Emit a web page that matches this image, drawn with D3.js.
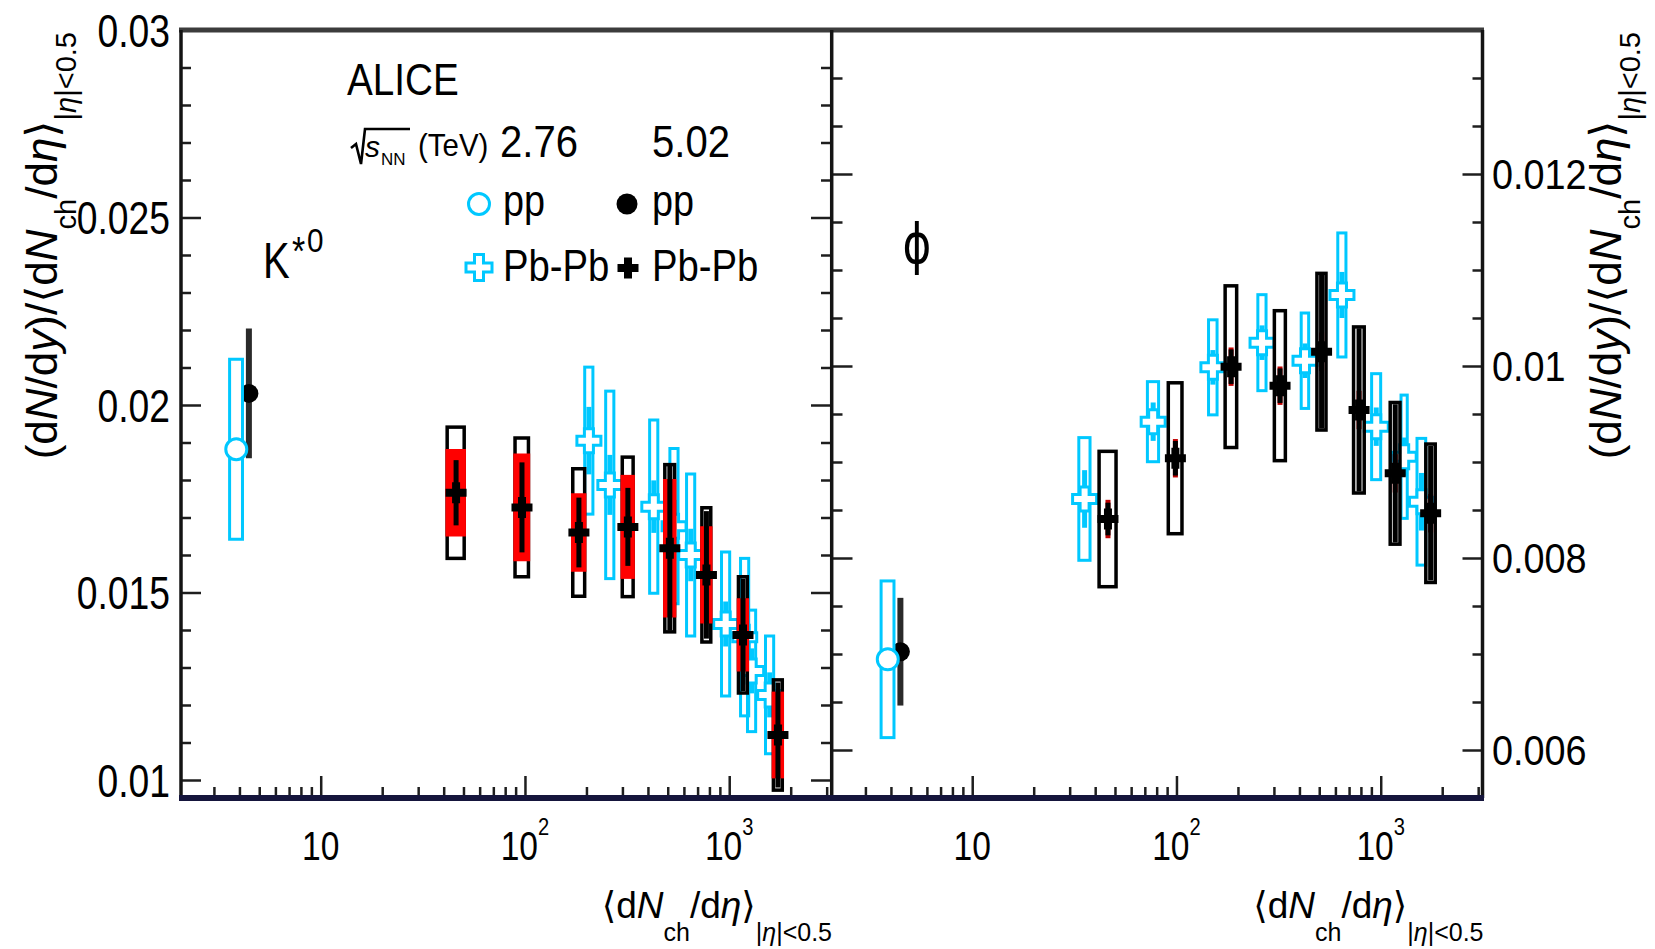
<!DOCTYPE html>
<html>
<head>
<meta charset="utf-8">
<script src="https://cdn.jsdelivr.net/npm/d3@7"></script>
<style>
  html, body { margin: 0; padding: 0; background: #fff; }
  svg { display: block; font-family: "Liberation Sans", Arial, Helvetica, sans-serif; }
</style>
</head>
<body>
<svg id="chart" width="1655" height="949"></svg>
<script>
// ---------------- data ----------------
// <dN_ch/deta>_{|eta|<0.5} of the pp reference points
const ppDNch276 = [3.86];
const ppDNch502 = [4.45];
const ppXErr = [0.28];

// K*0 : (dN/dy)/<dN_ch/deta>
const kstarPP276 = [0.01882];
const kstarPP276Stat = [0.0003];
const kstarPP276Sys = [0.0024];
const kstarPP502 = [0.02031];
const kstarPP502Err = [0.00173];

const kstarPbPb276DNch = [205.6, 260.4, 427.4, 537, 648, 961, 1191, 1288, 1578];
const kstarPbPb276XErr = [9.5, 12.0, 19.7, 24.7, 29.8, 44.2, 54.8, 59.2, 72.6];
const kstarPbPb276 = [0.01905, 0.01787, 0.01729, 0.01677, 0.0160, 0.01416, 0.01381, 0.01291, 0.01227];
const kstarPbPb276Stat = [0.0009, 0.0008, 0.0007, 0.0007, 0.0007, 0.0006, 0.0006, 0.0006, 0.0006];
const kstarPbPb276Sys = [0.00196, 0.0025, 0.00231, 0.00207, 0.00216, 0.00192, 0.0021, 0.00162, 0.00157];

const kstarPbPb502DNch = [46.0, 96.7, 183.7, 319, 512, 773.5, 1168, 1732];
const kstarPbPb502XErr = [4.4, 7.3, 12.3, 19.5, 28.2, 38.7, 58.4, 86.6];
const kstarPbPb502 = [0.01766, 0.01727, 0.01660, 0.01675, 0.01618, 0.01547, 0.01387, 0.01120];
const kstarPbPb502Stat = [0.00087, 0.0012, 0.00093, 0.00104, 0.0022, 0.0017, 0.0015, 0.0014];
const kstarPbPb502Sys = [0.00175, 0.00185, 0.0017, 0.00186, 0.00223, 0.00179, 0.00155, 0.00147];
const kstarPbPb502SysUnc = [0.00112, 0.00139, 0.0010, 0.00134, 0.0018, 0.00125, 0.00093, 0.00111];

// phi : (dN/dy)/<dN_ch/deta>
const phiPP276 = [0.006945];
const phiPP276Stat = [0.0001];
const phiPP276Sys = [0.000816];
const phiPP502 = [0.007024];
const phiPP502Err = [0.000561];

const phiPbPb276DNch = [35.5, 76.9, 150.8, 262.4, 425.9, 646, 951, 1303, 1583];
const phiPbPb276XErr = [2.24, 4.84, 7.24, 12.1, 17.9, 29.7, 48.5, 45.6, 77.6];
const phiPbPb276 = [0.008615, 0.00942, 0.009986, 0.010243, 0.010055, 0.01074, 0.009368, 0.009055, 0.008586];
const phiPbPb276Stat = [0.0003, 0.0002, 0.00018, 0.00018, 0.00018, 0.00024, 0.0002, 0.0002, 0.0003];
const phiPbPb276Sys = [0.000639, 0.000417, 0.000495, 0.0005, 0.000497, 0.000646, 0.000552, 0.000642, 0.00066];

const phiPbPb502DNch = [46.2, 98.8, 185.1, 321.4, 513.4, 783.3, 1177.6, 1755.7];
const phiPbPb502XErr = [4.4, 7.6, 12.0, 19.9, 26.2, 47.0, 64.8, 93.1];
const phiPbPb502 = [0.008406, 0.009039, 0.009993, 0.009795, 0.010149, 0.009542, 0.008882, 0.008466];
const phiPbPb502Stat = [0.00017, 0.00018, 0.00018, 0.00018, 0.0008, 0.00085, 0.00072, 0.0007];
const phiPbPb502Sys = [0.000705, 0.000786, 0.000842, 0.000781, 0.000816, 0.000865, 0.000738, 0.000721];
const phiPbPb502SysUnc = [0.0002, 0.0002, 0.0002, 0.0002, 0.0002, 0.0002, 0.0002, 0.0002];

// axis ticks
const xMajorTicks = [10, 100, 1000];
const xTickLabels = [["10", ""], ["10", "2"], ["10", "3"]];
const kstarMajorTicks = [0.01, 0.015, 0.02, 0.025, 0.03];
const kstarTickLabels = ["0.01", "0.015", "0.02", "0.025", "0.03"];
const phiMajorTicks = [0.006, 0.008, 0.01, 0.012];
const phiTickLabels = ["0.006", "0.008", "0.01", "0.012"];

// ---------------- layout ----------------
const CYAN = "#00c8ff";
const RED = "#ff0000";
const yTop = 30, yBot = 798;
const xDomain = [2.07, 3150];

const svg = d3.select("#chart");

const xMinorTicks = [];
[1, 10, 100, 1000].forEach(dec => d3.range(2, 10).forEach(k => {
  const v = k * dec;
  if (v > xDomain[0] && v < xDomain[1]) xMinorTicks.push(v);
}));

function crossPath(s, a) {
  const h = s / 2, t = a / 2;
  return `M${-t},${-h}L${t},${-h}L${t},${-t}L${h},${-t}L${h},${t}L${t},${t}L${t},${h}L${-t},${h}L${-t},${t}L${-h},${t}L${-h},${-t}L${-t},${-t}Z`;
}
const OPEN_CROSS = crossPath(24, 9);
const FULL_CROSS = crossPath(21, 8);

// text with optional sub/superscripts, condensed horizontally by sx
function richText(parent, x, y, parts, opt = {}) {
  const rot = opt.rotate || 0, sx = opt.sx || 1;
  const t = parent.append("text")
    .attr("transform", `translate(${x},${y}) rotate(${rot}) scale(${sx},1)`)
    .attr("text-anchor", opt.anchor || "start")
    .attr("fill", "#000");
  let cur = 0;
  parts.forEach(p => {
    const ts = t.append("tspan").text(p.t).attr("font-size", p.size);
    const shift = p.shift || 0;
    if (shift !== cur) { ts.attr("dy", shift - cur); cur = shift; }
    if (p.italic) ts.attr("font-style", "italic");
    if (p.family) ts.attr("font-family", p.family);
  });
  return t;
}

function zip(xs, ys, extra) {
  return xs.map((x, i) => {
    const o = { x, y: ys[i] };
    Object.keys(extra).forEach(k => { o[k] = extra[k][i]; });
    return o;
  });
}

const panelDefs = [
  {
    x0: 181, x1: 831, yDomain: [0.00952, 0.03],
    major: kstarMajorTicks, labels: kstarTickLabels,
    minor: d3.range(10, 31).map(i => i / 1000),
    pp276: zip(ppDNch276, kstarPP276, { stat: kstarPP276Stat, sys: kstarPP276Sys, ex: ppXErr }),
    pp502: zip(ppDNch502, kstarPP502, { err: kstarPP502Err }),
    aa276: zip(kstarPbPb276DNch, kstarPbPb276, { stat: kstarPbPb276Stat, sys: kstarPbPb276Sys, ex: kstarPbPb276XErr }),
    aa502: zip(kstarPbPb502DNch, kstarPbPb502, { stat: kstarPbPb502Stat, sys: kstarPbPb502Sys, unc: kstarPbPb502SysUnc, ex: kstarPbPb502XErr }),
    uncFull: true
  },
  {
    x0: 832.5, x1: 1482.5, yDomain: [0.0055, 0.0135],
    major: phiMajorTicks, labels: phiTickLabels,
    minor: d3.range(11, 28).map(i => +(i * 0.0005).toFixed(5)),
    pp276: zip(ppDNch276, phiPP276, { stat: phiPP276Stat, sys: phiPP276Sys, ex: ppXErr }),
    pp502: zip(ppDNch502, phiPP502, { err: phiPP502Err }),
    aa276: zip(phiPbPb276DNch, phiPbPb276, { stat: phiPbPb276Stat, sys: phiPbPb276Sys, ex: phiPbPb276XErr }),
    aa502: zip(phiPbPb502DNch, phiPbPb502, { stat: phiPbPb502Stat, sys: phiPbPb502Sys, unc: phiPbPb502SysUnc, ex: phiPbPb502XErr }),
    uncFull: false
  }
];

panelDefs.forEach(p => {
  p.x = d3.scaleLog().domain(xDomain).range([p.x0, p.x1]);
  p.y = d3.scaleLinear().domain(p.yDomain).range([yBot, yTop]);
});

function drawData(p) {
  const g = svg.append("g");
  const x = p.x, y = p.y;

  // pp 5.02 TeV: error bar and full circle
  g.selectAll(null).data(p.pp502).join("line")
    .attr("x1", d => x(d.x)).attr("x2", d => x(d.x))
    .attr("y1", d => y(d.y + d.err)).attr("y2", d => y(d.y - d.err))
    .attr("stroke", "#2a2a2a").attr("stroke-width", 6);
  g.selectAll(null).data(p.pp502).join("circle")
    .attr("cx", d => x(d.x)).attr("cy", d => y(d.y)).attr("r", 9.5).attr("fill", "#000");

  // pp 2.76 TeV: systematic box, stat bar, open circle
  g.selectAll(null).data(p.pp276).join("rect")
    .attr("x", d => x(d.x - d.ex)).attr("width", d => x(d.x + d.ex) - x(d.x - d.ex))
    .attr("y", d => y(d.y + d.sys)).attr("height", d => y(d.y - d.sys) - y(d.y + d.sys))
    .attr("fill", "#fff").attr("stroke", CYAN).attr("stroke-width", 3);
  g.selectAll(null).data(p.pp276).join("line")
    .attr("x1", d => x(d.x)).attr("x2", d => x(d.x))
    .attr("y1", d => y(d.y + d.stat)).attr("y2", d => y(d.y - d.stat))
    .attr("stroke", CYAN).attr("stroke-width", 4);
  g.selectAll(null).data(p.pp276).join("circle")
    .attr("cx", d => x(d.x)).attr("cy", d => y(d.y)).attr("r", 10.5)
    .attr("fill", "#fff").attr("stroke", CYAN).attr("stroke-width", 3);

  // Pb-Pb 2.76 TeV
  g.selectAll(null).data(p.aa276).join("rect")
    .attr("x", d => x(d.x - d.ex)).attr("width", d => x(d.x + d.ex) - x(d.x - d.ex))
    .attr("y", d => y(d.y + d.sys)).attr("height", d => y(d.y - d.sys) - y(d.y + d.sys))
    .attr("fill", "none").attr("stroke", CYAN).attr("stroke-width", 3);
  g.selectAll(null).data(p.aa276).join("line")
    .attr("x1", d => x(d.x)).attr("x2", d => x(d.x))
    .attr("y1", d => y(d.y + d.stat)).attr("y2", d => y(d.y - d.stat))
    .attr("stroke", CYAN).attr("stroke-width", 5);
  g.selectAll(null).data(p.aa276).join("path")
    .attr("d", OPEN_CROSS)
    .attr("transform", d => `translate(${x(d.x)},${y(d.y)})`)
    .attr("fill", "#fff").attr("stroke", CYAN).attr("stroke-width", 3);

  // Pb-Pb 5.02 TeV: total syst. box, uncorrelated syst. (red), stat bar, full cross
  g.selectAll(null).data(p.aa502).join("rect")
    .attr("x", d => x(d.x - d.ex)).attr("width", d => x(d.x + d.ex) - x(d.x - d.ex))
    .attr("y", d => y(d.y + d.sys)).attr("height", d => y(d.y - d.sys) - y(d.y + d.sys))
    .attr("fill", "none").attr("stroke", "#000").attr("stroke-width", 3.5);
  if (p.uncFull) {
    g.selectAll(null).data(p.aa502).join("rect")
      .attr("x", d => x(d.x - d.ex)).attr("width", d => x(d.x + d.ex) - x(d.x - d.ex))
      .attr("y", d => y(d.y + d.unc)).attr("height", d => y(d.y - d.unc) - y(d.y + d.unc))
      .attr("fill", RED).attr("stroke", RED).attr("stroke-width", 3.5);
  } else {
    g.selectAll(null).data(p.aa502).join("rect")
      .attr("x", d => x(d.x) - 2.5).attr("width", 5)
      .attr("y", d => y(d.y + d.unc)).attr("height", d => y(d.y - d.unc) - y(d.y + d.unc))
      .attr("fill", "#c00000");
  }
  g.selectAll(null).data(p.aa502).join("line")
    .attr("x1", d => x(d.x)).attr("x2", d => x(d.x))
    .attr("y1", d => y(d.y + d.stat)).attr("y2", d => y(d.y - d.stat))
    .attr("stroke", "#000").attr("stroke-width", 5);
  g.selectAll(null).data(p.aa502).join("path")
    .attr("d", FULL_CROSS)
    .attr("transform", d => `translate(${x(d.x)},${y(d.y)})`)
    .attr("fill", "#000");
}

function drawAxes(p, idx) {
  const g = svg.append("g");
  const styleTicks = sel => sel.call(a => a.select(".domain").remove())
    .selectAll("line").attr("stroke", "#1e1e1e").attr("stroke-width", 2.5);

  // y ticks on both vertical edges of the panel
  const yMinor = p.minor.filter(v => !p.major.some(m => Math.abs(m - v) < 1e-9));
  [[p.x0, d3.axisRight], [p.x1, d3.axisLeft]].forEach(([xp, mk]) => {
    g.append("g").attr("transform", `translate(${xp},0)`)
      .call(mk(p.y).tickValues(yMinor).tickSize(10).tickFormat("")).call(styleTicks);
    g.append("g").attr("transform", `translate(${xp},0)`)
      .call(mk(p.y).tickValues(p.major).tickSize(20).tickFormat("")).call(styleTicks);
  });

  // x ticks pointing up from the bottom axis
  g.append("g").attr("transform", `translate(0,${yBot})`)
    .call(d3.axisTop(p.x).tickValues(xMinorTicks).tickSize(11).tickFormat("")).call(styleTicks);
  g.append("g").attr("transform", `translate(0,${yBot})`)
    .call(d3.axisTop(p.x).tickValues(xMajorTicks).tickSize(22).tickFormat("")).call(styleTicks);

  // x tick labels
  xMajorTicks.forEach((v, i) => {
    const parts = [{ t: xTickLabels[i][0], size: 40 }];
    if (xTickLabels[i][1]) parts.push({ t: xTickLabels[i][1], size: 24, shift: -25 });
    richText(g, p.x(v), 860, parts, { anchor: "middle", sx: 0.84 });
  });

  // y tick labels: left panel on the left, right panel on the right
  p.major.forEach((v, i) => {
    if (idx === 0) {
      richText(g, 170, p.y(v) + 16.5, [{ t: p.labels[i], size: 46 }], { anchor: "end", sx: 0.81 });
    } else {
      richText(g, 1492, p.y(v) + 15, [{ t: p.labels[i], size: 42 }], { anchor: "start", sx: 0.9 });
    }
  });

  // x-axis title
  richText(g, p.x1 + 1, 918, [
    { t: "\u27E8", size: 37, family: "DejaVu Sans" },
    { t: "d", size: 37 }, { t: "N", size: 37, italic: true },
    { t: "ch", size: 25, shift: 23 },
    { t: "/d", size: 37, shift: 0 }, { t: "\u03B7", size: 37, italic: true },
    { t: "\u27E9", size: 37, family: "DejaVu Sans" },
    { t: "|", size: 25, shift: 23 }, { t: "\u03B7", size: 25, italic: true, shift: 23 },
    { t: "|<0.5", size: 25, shift: 23 }
  ], { anchor: "end", sx: 1.0 });
}

// y-axis titles (left and right)
function yTitle(xBase) {
  richText(svg, xBase, 32, [
    { t: "(d", size: 44 }, { t: "N", size: 44, italic: true }, { t: "/d", size: 44 },
    { t: "y", size: 44, italic: true }, { t: ")/", size: 44 },
    { t: "\u27E8", size: 44, family: "DejaVu Sans" },
    { t: "d", size: 44 }, { t: "N", size: 44, italic: true },
    { t: "ch", size: 29, shift: 19 },
    { t: "/d", size: 44, shift: 0 }, { t: "\u03B7", size: 44, italic: true },
    { t: "\u27E9", size: 44, family: "DejaVu Sans" },
    { t: "|", size: 29, shift: 19 }, { t: "\u03B7", size: 29, italic: true, shift: 19 },
    { t: "|<0.5", size: 29, shift: 19 }
  ], { anchor: "end", rotate: -90 });
}

panelDefs.forEach(drawData);
panelDefs.forEach(drawAxes);

// frame
const frame = svg.append("g");
frame.append("line").attr("x1", 179).attr("x2", 1484).attr("y1", yTop).attr("y2", yTop)
  .attr("stroke", "#3c3c3c").attr("stroke-width", 5);
[181, 831.7, 1482.5].forEach(xp => {
  frame.append("line").attr("x1", xp).attr("x2", xp).attr("y1", yTop).attr("y2", yBot)
    .attr("stroke", "#141414").attr("stroke-width", 3.5);
});
frame.append("line").attr("x1", 179).attr("x2", 1484).attr("y1", yBot).attr("y2", yBot)
  .attr("stroke", "#15153c").attr("stroke-width", 6);

yTitle(57);
yTitle(1621);

// ---------------- annotations ----------------
const ann = svg.append("g");
richText(ann, 347, 95, [{ t: "ALICE", size: 45 }], { sx: 0.86 });

// sqrt(s_NN) (TeV)  2.76  5.02
ann.append("path")
  .attr("d", "M351,148 L356,144 L361,164 L365,129 L410,129")
  .attr("fill", "none").attr("stroke", "#000").attr("stroke-width", 2.6).attr("stroke-linejoin", "miter");
richText(ann, 365, 157, [{ t: "s", size: 30, italic: true }]);
richText(ann, 381, 165, [{ t: "NN", size: 17 }]);
richText(ann, 418, 156, [{ t: "(TeV)", size: 32 }], { sx: 0.92 });
richText(ann, 500, 157, [{ t: "2.76", size: 45 }], { sx: 0.89 });
richText(ann, 652, 157, [{ t: "5.02", size: 45 }], { sx: 0.89 });

// legend
ann.append("circle").attr("cx", 479).attr("cy", 204).attr("r", 10.5)
  .attr("fill", "#fff").attr("stroke", CYAN).attr("stroke-width", 3);
richText(ann, 503, 216, [{ t: "pp", size: 45 }], { sx: 0.84 });
ann.append("circle").attr("cx", 627).attr("cy", 204).attr("r", 10.5).attr("fill", "#000");
richText(ann, 652, 216, [{ t: "pp", size: 45 }], { sx: 0.84 });
ann.append("path").attr("d", crossPath(26, 9)).attr("transform", "translate(479,267.5)")
  .attr("fill", "#fff").attr("stroke", CYAN).attr("stroke-width", 3);
richText(ann, 503, 281, [{ t: "Pb-Pb", size: 44 }], { sx: 0.87 });
ann.append("path").attr("d", FULL_CROSS).attr("transform", "translate(628,268)").attr("fill", "#000");
richText(ann, 652, 281, [{ t: "Pb-Pb", size: 44 }], { sx: 0.87 });

// particle labels
richText(ann, 263, 278, [{ t: "K", size: 50 }], { sx: 0.8 });
richText(ann, 292, 265, [{ t: "*", size: 40 }], { sx: 0.85 });
richText(ann, 307, 252, [{ t: "0", size: 33 }], { sx: 0.9 });
richText(ann, 917, 263, [{ t: "\u03D5", size: 56, family: "DejaVu Sans" }], { anchor: "middle", sx: 0.78 });
</script>
</body>
</html>
